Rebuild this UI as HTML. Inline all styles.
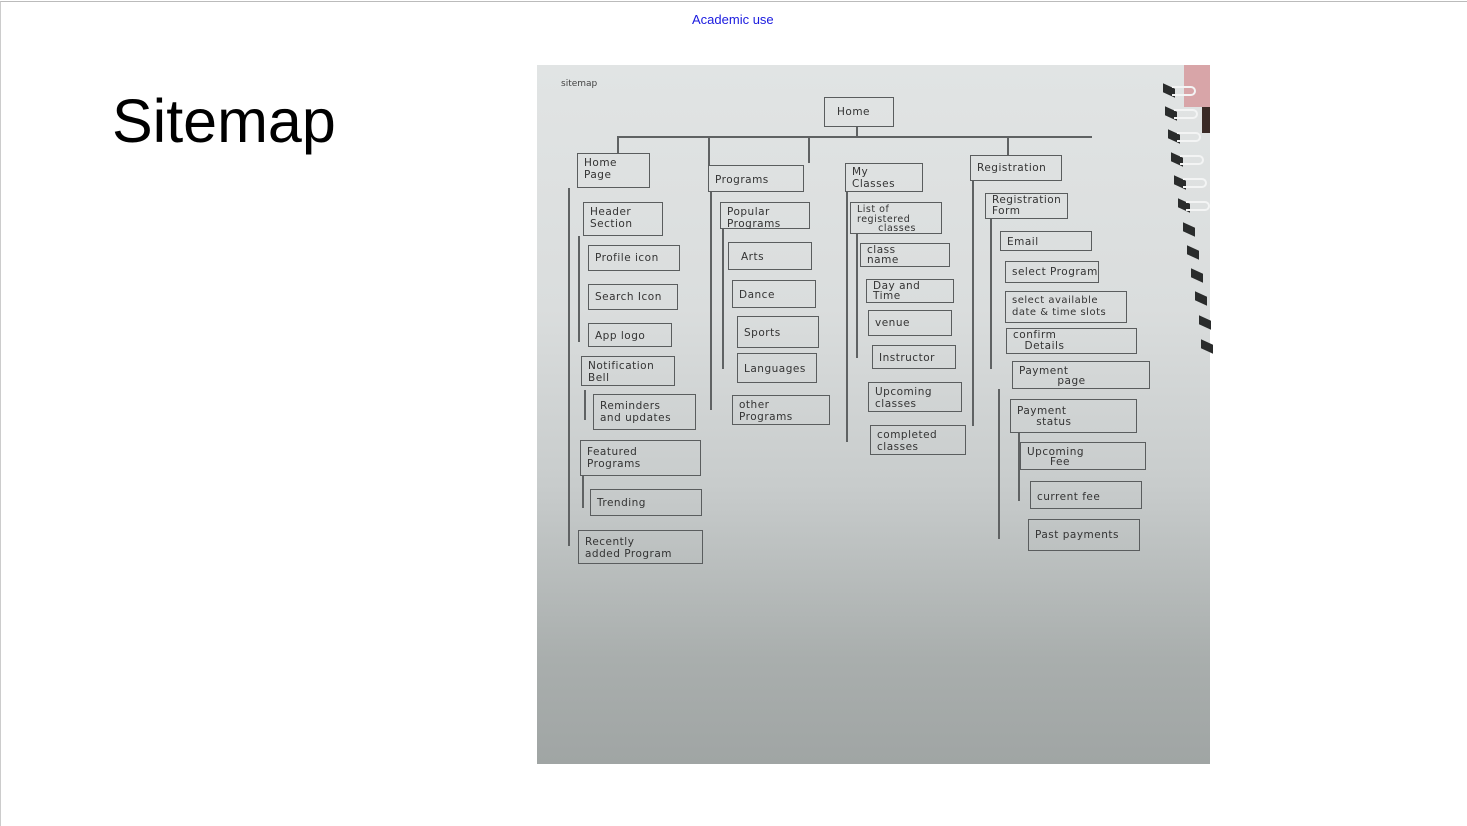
<!DOCTYPE html>
<html><head><meta charset="utf-8"><style>
body{margin:0;width:1467px;height:826px;background:#fff;position:relative;overflow:hidden;font-family:"Liberation Sans",sans-serif}
.frame{position:absolute;left:0;top:1px;width:1466px;height:824px;border-top:1px solid #bbb;border-left:1px solid #ccc}
.au{position:absolute;left:692px;top:12px;font-size:13px;color:#1a1adf}
.title{position:absolute;left:112px;top:86px;font-size:61px;color:#000}
.photo{position:absolute;left:537px;top:65px;width:673px;height:699px;background:linear-gradient(180deg,#e1e4e4 0%,#dadddd 35%,#c8cccc 60%,#a9aead 85%,#a0a5a4 100%);overflow:hidden}
.b{position:absolute;border:1.5px solid #5a5d5e;box-sizing:border-box;font-family:"DejaVu Sans",sans-serif;font-size:10.5px;color:#333;line-height:12px;padding:3px 6px;white-space:nowrap;letter-spacing:0.5px}
.l{position:absolute;background:#5f6263}
.h{position:absolute;width:12px;height:9px;background:#2a2c2c;transform:skewY(25deg)}
.r{position:absolute;width:24px;height:10px;border:2px solid #f3f4f4;border-left:none;border-radius:0 10px 10px 0;box-sizing:border-box}
</style></head><body>
<div class="frame"></div>
<div class="au">Academic use</div>
<div class="title">Sitemap</div>
<div class="photo">
<div style="position:absolute;left:647px;top:0;width:26px;height:42px;background:#d8a5a8"></div>
<div style="position:absolute;left:665px;top:42px;width:8px;height:26px;background:#3a2a26"></div>
<div style="position:absolute;left:24px;top:14px;font-size:9px;color:#444;font-family:'DejaVu Sans',sans-serif">sitemap</div>
</div>
<!-- spiral -->
<div class="h" style="left:1163px;top:86px"></div><div class="h" style="left:1165px;top:109px"></div><div class="h" style="left:1168px;top:132px"></div><div class="h" style="left:1171px;top:155px"></div><div class="h" style="left:1174px;top:178px"></div><div class="h" style="left:1178px;top:201px"></div><div class="h" style="left:1183px;top:225px"></div><div class="h" style="left:1187px;top:248px"></div><div class="h" style="left:1191px;top:271px"></div><div class="h" style="left:1195px;top:294px"></div><div class="h" style="left:1199px;top:318px"></div><div class="h" style="left:1201px;top:342px"></div>
<div class="r" style="left:1172px;top:86px"></div><div class="r" style="left:1174px;top:109px"></div><div class="r" style="left:1177px;top:132px"></div><div class="r" style="left:1180px;top:155px"></div><div class="r" style="left:1183px;top:178px"></div><div class="r" style="left:1186px;top:201px"></div>

<div class="b" style="left:824px;top:97px;width:70px;height:30px;padding-top:8px;padding-left:12px">Home</div>
<div class="l" style="left:856px;top:127px;width:1.5px;height:9px"></div>
<div class="l" style="left:617px;top:136px;width:475px;height:1.5px"></div>
<div class="l" style="left:617px;top:136px;width:1.5px;height:17px"></div>
<div class="l" style="left:708px;top:136px;width:1.5px;height:29px"></div>
<div class="l" style="left:808px;top:136px;width:1.5px;height:27px"></div>
<div class="l" style="left:1007px;top:136px;width:1.5px;height:19px"></div>

<!-- col1 -->
<div class="l" style="left:568px;top:188px;width:1.5px;height:358px"></div>
<div class="b" style="left:577px;top:153px;width:73px;height:35px">Home<br>Page</div>
<div class="b" style="left:583px;top:202px;width:80px;height:34px">Header<br>Section</div>
<div class="l" style="left:578px;top:236px;width:1.5px;height:106px"></div>
<div class="b" style="left:588px;top:245px;width:92px;height:26px;padding-top:6px">Profile icon</div>
<div class="b" style="left:588px;top:284px;width:90px;height:26px;padding-top:6px">Search Icon</div>
<div class="b" style="left:588px;top:323px;width:84px;height:24px;padding-top:6px">App logo</div>
<div class="b" style="left:581px;top:356px;width:94px;height:30px">Notification<br>Bell</div>
<div class="l" style="left:584px;top:390px;width:1.5px;height:30px"></div>
<div class="b" style="left:593px;top:394px;width:103px;height:36px;padding-top:5px">Reminders<br>and updates</div>
<div class="b" style="left:580px;top:440px;width:121px;height:36px;padding-top:5px">Featured<br>Programs</div>
<div class="l" style="left:582px;top:476px;width:1.5px;height:32px"></div>
<div class="b" style="left:590px;top:489px;width:112px;height:27px;padding-top:7px">Trending</div>
<div class="b" style="left:578px;top:530px;width:125px;height:34px;padding-top:5px">Recently<br>added Program</div>

<!-- col2 -->
<div class="l" style="left:710px;top:192px;width:1.5px;height:218px"></div>
<div class="b" style="left:708px;top:165px;width:96px;height:27px;padding-top:8px">Programs</div>
<div class="b" style="left:720px;top:202px;width:90px;height:27px">Popular<br>Programs</div>
<div class="l" style="left:722px;top:229px;width:1.5px;height:140px"></div>
<div class="b" style="left:728px;top:242px;width:84px;height:28px;padding-top:8px;padding-left:12px">Arts</div>
<div class="b" style="left:732px;top:280px;width:84px;height:28px;padding-top:8px">Dance</div>
<div class="b" style="left:737px;top:316px;width:82px;height:32px;padding-top:10px">Sports</div>
<div class="b" style="left:737px;top:353px;width:80px;height:30px;padding-top:9px">Languages</div>
<div class="b" style="left:732px;top:395px;width:98px;height:30px">other<br>Programs</div>

<!-- col3 -->
<div class="l" style="left:846px;top:192px;width:1.5px;height:250px"></div>
<div class="b" style="left:845px;top:163px;width:78px;height:29px;padding-top:2px">My<br>Classes</div>
<div class="b" style="left:850px;top:202px;width:92px;height:32px;padding-top:2px;font-size:9.5px;line-height:9.5px">List of<br>registered<br>&nbsp;&nbsp;&nbsp;&nbsp;&nbsp;&nbsp;classes</div>
<div class="l" style="left:856px;top:234px;width:1.5px;height:124px"></div>
<div class="b" style="left:860px;top:243px;width:90px;height:24px;padding-top:1px;line-height:10px">class<br>name</div>
<div class="b" style="left:866px;top:279px;width:88px;height:24px;padding-top:1px;line-height:10px">Day and<br>Time</div>
<div class="b" style="left:868px;top:310px;width:84px;height:26px;padding-top:6px">venue</div>
<div class="b" style="left:872px;top:345px;width:84px;height:24px;padding-top:6px">Instructor</div>
<div class="b" style="left:868px;top:382px;width:94px;height:30px">Upcoming<br>classes</div>
<div class="b" style="left:870px;top:425px;width:96px;height:30px">completed<br>classes</div>

<!-- col4 -->
<div class="l" style="left:972px;top:181px;width:1.5px;height:245px"></div>
<div class="b" style="left:970px;top:155px;width:92px;height:26px;padding-top:6px">Registration</div>
<div class="b" style="left:985px;top:193px;width:83px;height:26px;padding-top:1px;line-height:11px">Registration<br>Form</div>
<div class="l" style="left:990px;top:219px;width:1.5px;height:150px"></div>
<div class="b" style="left:1000px;top:231px;width:92px;height:20px;padding-top:4px">Email</div>
<div class="b" style="left:1005px;top:261px;width:94px;height:22px;padding-top:4px">select Program</div>
<div class="b" style="left:1005px;top:291px;width:122px;height:32px;padding-top:3px;font-size:10px">select available<br>date &amp; time slots</div>
<div class="b" style="left:1006px;top:328px;width:131px;height:26px;padding-top:1px;line-height:11px">confirm<br>&nbsp;&nbsp;&nbsp;Details</div>
<div class="b" style="left:1012px;top:361px;width:138px;height:28px;padding-top:4px;line-height:10px">Payment<br>&nbsp;&nbsp;&nbsp;&nbsp;&nbsp;&nbsp;&nbsp;&nbsp;&nbsp;&nbsp;page</div>
<div class="l" style="left:998px;top:389px;width:1.5px;height:150px"></div>
<div class="b" style="left:1010px;top:399px;width:127px;height:34px;padding-top:6px;line-height:11px">Payment<br>&nbsp;&nbsp;&nbsp;&nbsp;&nbsp;status</div>
<div class="l" style="left:1018px;top:433px;width:1.5px;height:68px"></div>
<div class="b" style="left:1020px;top:442px;width:126px;height:28px;padding-top:4px;line-height:10px">Upcoming<br>&nbsp;&nbsp;&nbsp;&nbsp;&nbsp;&nbsp;Fee</div>
<div class="b" style="left:1030px;top:481px;width:112px;height:28px;padding-top:9px">current fee</div>
<div class="b" style="left:1028px;top:519px;width:112px;height:32px;padding-top:9px">Past payments</div>
</body></html>
